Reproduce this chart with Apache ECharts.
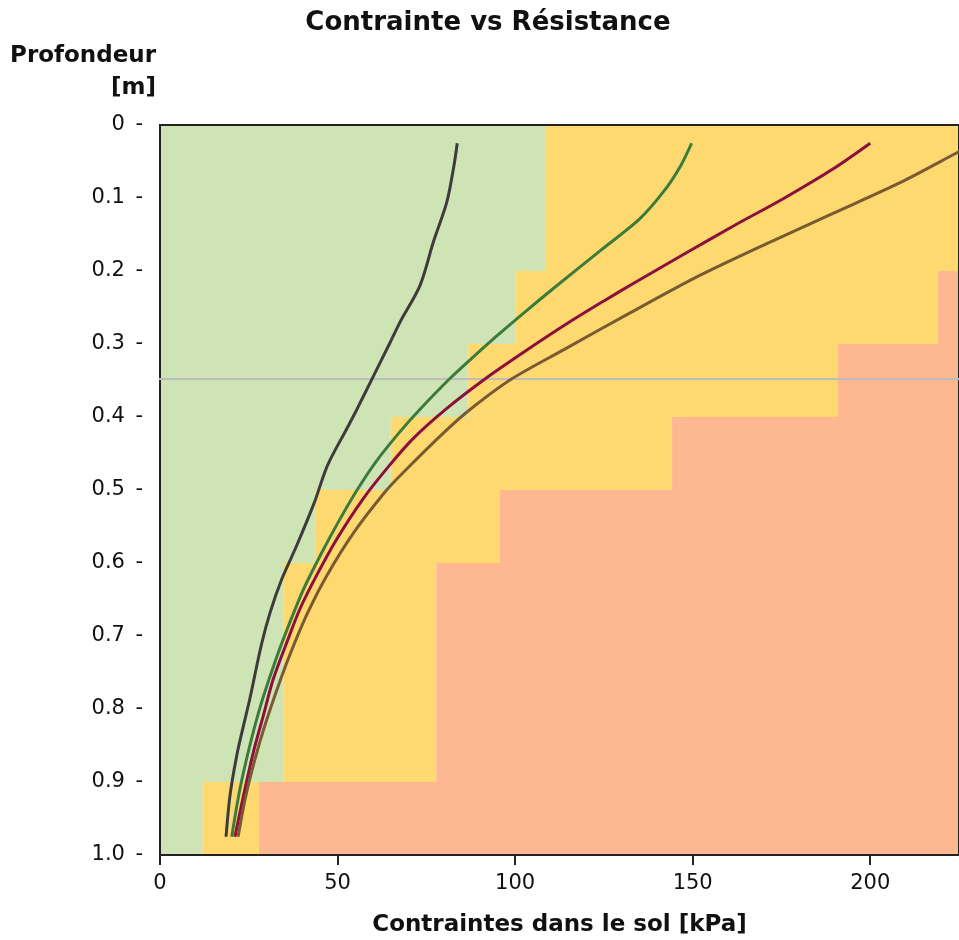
<!DOCTYPE html>
<html>
<head>
<meta charset="utf-8">
<title>Contrainte vs Résistance</title>
<script src="https://cdn.jsdelivr.net/npm/echarts@6/dist/echarts.min.js"></script>
<style>
  html, body { margin: 0; padding: 0; background: #ffffff; }
  #chart { width: 959px; height: 940px; }
</style>
</head>
<body>
<div id="chart"></div>
<script>
// Axis ticks
const xTicks = [0, 50, 100, 150, 200];
const xMax = 225;
const yTickLabels = ['0', '0.1', '0.2', '0.3', '0.4', '0.5', '0.6', '0.7', '0.8', '0.9', '1.0'];

// Resistance zones per depth band [m]: green up to greenLimit, yellow up to salmonLimit, salmon beyond
const zoneTop = [0, 0.2, 0.3, 0.4, 0.5, 0.6, 0.9];
const zoneBottom = [0.2, 0.3, 0.4, 0.5, 0.6, 0.9, 1.0];
const greenLimit = [108.7, 100.0, 86.8, 65.0, 43.6, 34.7, 12.0];
const salmonLimit = [null, 219.0, 190.8, 144.2, 95.6, 77.8, 27.9];

// Reference level [m]
const referenceDepth = 0.348;

// Stress curves: [stress kPa, depth m]
const curveGrey = [
  [83.7, 0.025], [82.8, 0.055], [80.8, 0.105], [77.0, 0.16], [73.2, 0.22], [67.6, 0.27],
  [64.8, 0.298], [60.0, 0.345], [55.4, 0.39], [52.6, 0.416], [47.2, 0.466], [43.4, 0.518],
  [38.5, 0.576], [34.3, 0.622], [31.0, 0.668], [28.5, 0.713], [25.3, 0.786], [23.5, 0.823],
  [21.6, 0.864], [19.7, 0.919], [18.6, 0.975]
];
const curveGreen = [
  [149.7, 0.025], [146.6, 0.056], [142.0, 0.09], [135.0, 0.129], [124.0, 0.172], [110.5, 0.225],
  [101.8, 0.26], [94.6, 0.29], [87.7, 0.32], [81.5, 0.348], [73.3, 0.389], [67.6, 0.42],
  [61.0, 0.46], [55.5, 0.5], [50.2, 0.544], [45.1, 0.59], [40.4, 0.636], [36.6, 0.681],
  [33.0, 0.727], [28.6, 0.791], [25.3, 0.85], [22.5, 0.91], [20.2, 0.975]
];
const curveMaroon = [
  [200.0, 0.025], [189.6, 0.06], [175.5, 0.101], [161.6, 0.138], [148.6, 0.174], [134.0, 0.215],
  [125.0, 0.241], [115.3, 0.27], [102.8, 0.31], [91.5, 0.348], [80.6, 0.389], [71.2, 0.43],
  [64.5, 0.467], [57.2, 0.512], [49.8, 0.567], [44.1, 0.617], [39.4, 0.663], [35.7, 0.709],
  [31.9, 0.759], [29.1, 0.809], [26.3, 0.859], [23.5, 0.919], [21.1, 0.975]
];
const curveBrown = [
  [229.5, 0.025], [224.8, 0.037], [208.4, 0.079], [190.0, 0.12], [171.5, 0.161], [152.0, 0.206],
  [132.5, 0.257], [114.0, 0.307], [99.0, 0.348], [87.5, 0.389], [80.0, 0.421], [68.5, 0.476],
  [63.3, 0.503], [54.6, 0.558], [47.0, 0.617], [41.6, 0.668], [37.2, 0.718], [34.0, 0.759],
  [29.5, 0.823], [26.5, 0.873], [24.0, 0.923], [22.0, 0.975]
];

const zoneColors = { green: '#cfe4b4', yellow: '#fdd970', salmon: '#fdb791' };

const zoneData = zoneTop.map((t, i) => [t, zoneBottom[i], greenLimit[i], salmonLimit[i] == null ? xMax : salmonLimit[i]]);

function renderZone(params, api) {
  const d0 = api.value(0), d1 = api.value(1);
  const g = Math.min(api.value(2), xMax), s = Math.min(api.value(3), xMax);
  const pLeft = api.coord([0, d0]);
  const pBottom = api.coord([0, d1]);
  const xG = api.coord([g, d0])[0];
  const xS = api.coord([s, d0])[0];
  const xR = api.coord([xMax, d0])[0];
  const y = pLeft[1], h = pBottom[1] - pLeft[1];
  const rect = (x0, x1, fill) => ({
    type: 'rect',
    shape: { x: x0, y: y, width: Math.max(0, x1 - x0), height: h },
    style: { fill: fill, stroke: null }
  });
  return {
    type: 'group',
    children: [
      rect(pLeft[0], xG, zoneColors.green),
      rect(xG, xS, zoneColors.yellow),
      rect(xS, xR, zoneColors.salmon)
    ]
  };
}

function curve(data, color) {
  return {
    type: 'line',
    data: data,
    smooth: 0.3,
    symbol: 'none',
    clip: true,
    z: 4,
    lineStyle: { color: color, width: 3, cap: 'butt' }
  };
}

const chart = echarts.init(document.getElementById('chart'), null, { renderer: 'canvas' });
chart.setOption({
  animation: false,
  backgroundColor: '#ffffff',
  title: [
    {
      text: 'Contrainte vs Résistance',
      left: 483, top: 2, textAlign: 'center',
      textStyle: { fontFamily: 'DejaVu Sans', fontWeight: 'bold', fontSize: 26, lineHeight: 32, color: '#111' }
    },
    {
      text: 'Profondeur\n[m]',
      left: 151, top: 35, textAlign: 'right',
      textStyle: { fontFamily: 'DejaVu Sans', fontWeight: 'bold', fontSize: 23, lineHeight: 32, color: '#111' }
    }
  ],
  grid: {
    left: 160, right: 0, top: 125, bottom: 85,
    show: true, borderColor: '#222', borderWidth: 2, backgroundColor: 'transparent',
    outerBoundsMode: 'none', containLabel: false
  },
  xAxis: {
    type: 'value', min: 0, max: xMax, interval: 50, position: 'bottom',
    name: 'Contraintes dans le sol [kPa]',
    nameLocation: 'middle', nameGap: 59,
    nameTextStyle: { fontFamily: 'DejaVu Sans', fontWeight: 'bold', fontSize: 23, color: '#111' },
    axisLine: { show: true, onZero: false, lineStyle: { color: '#222', width: 2 } },
    axisTick: { show: true, inside: false, length: 10, lineStyle: { color: '#222', width: 2 } },
    axisLabel: {
      margin: 18, fontFamily: 'DejaVu Sans', fontSize: 21, color: '#111',
      showMaxLabel: false,
      formatter: v => (xTicks.indexOf(v) >= 0 ? String(v) : '')
    },
    splitLine: { show: false }
  },
  yAxis: {
    type: 'value', min: 0, max: 1, interval: 0.1, inverse: true, position: 'left',
    axisLine: { show: true, onZero: false, lineStyle: { color: '#222', width: 2 } },
    axisTick: { show: false },
    axisLabel: {
      margin: 17, fontFamily: 'DejaVu Sans', fontSize: 21, color: '#111',
      formatter: v => yTickLabels[Math.round(v * 10)] + '\u2002-'
    },
    splitLine: { show: false }
  },
  series: [
    {
      type: 'custom',
      z: -1,
      silent: true,
      renderItem: renderZone,
      encode: { x: [2, 3], y: [0, 1] },
      data: zoneData
    },
    {
      type: 'line',
      data: [[-3, referenceDepth], [xMax, referenceDepth]],
      symbol: 'none',
      clip: false,
      silent: true,
      z: 3,
      lineStyle: { color: '#bdbdbd', width: 2 }
    },
    curve(curveGrey, '#3c3c3c'),
    curve(curveGreen, '#3b7b3b'),
    curve(curveMaroon, '#8c0f3c'),
    curve(curveBrown, '#7a5a32')
  ]
});
</script>
</body>
</html>
